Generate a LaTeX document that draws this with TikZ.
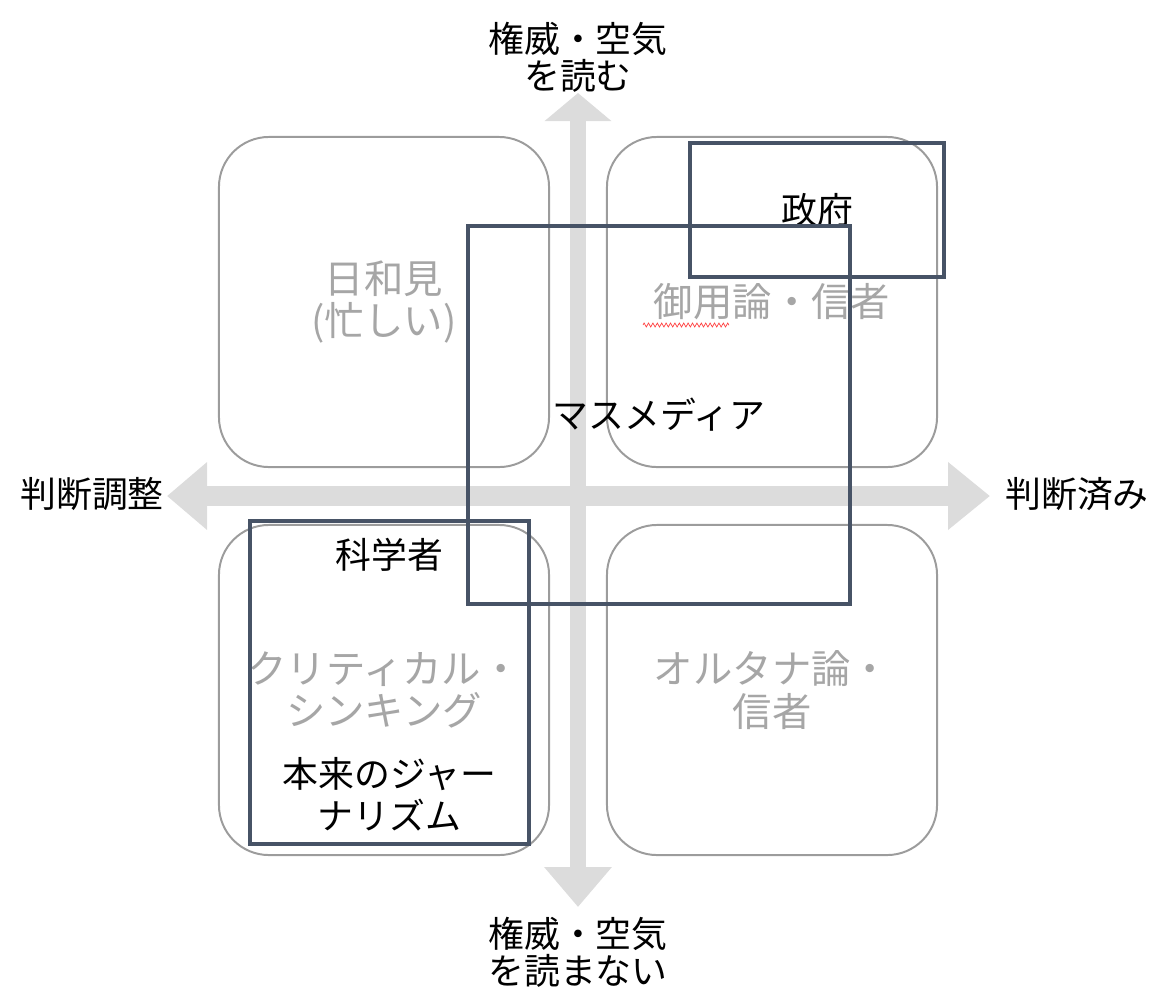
\documentclass[tikz,border=0pt]{standalone}
\usepackage{fontspec}
\setmainfont{Noto Sans CJK JP}
\usepackage{xcolor}
\usetikzlibrary{arrows.meta, positioning, decorations.pathmorphing}
\definecolor{axisgray}{HTML}{DCDCDC}
\definecolor{quadgray}{HTML}{9C9C9C}
\definecolor{txtgray}{HTML}{A6A6A6}
\definecolor{slate}{HTML}{475366}

\begin{document}
\begin{tikzpicture}[x=0.025cm, y=-0.025cm,
    quad/.style={draw=quadgray, fill=white, line width=1.4pt, rounded corners=1.25cm,
        minimum width=8.25cm, minimum height=8.25cm, align=center, text=txtgray,
        font=\fontsize{28}{30.5}\selectfont},
    grp/.style={draw=slate, line width=2.5pt, align=center, inner sep=0pt,
        font=\fontsize{25.5}{30}\selectfont},
    txt/.style={align=center, font=\fontsize{25.5}{30}\selectfont},
    lbl/.style={align=center, font=\fontsize{25.5}{26.5}\selectfont}]
\useasboundingbox (0,0) rectangle (1170,1002);
% Axes
\coordinate (top) at (578,93);
\coordinate (bot) at (578,907);
\coordinate (lft) at (167,496);
\coordinate (rgt) at (990,496);
\draw[axisgray, line width=0.38cm,
    {Triangle[width=1.63cm, length=0.7cm]}-{Triangle[width=1.63cm, length=1.0cm]}] (top) -- (bot);
\draw[axisgray, line width=0.52cm,
    {Triangle[width=1.63cm, length=1.0cm]}-{Triangle[width=1.63cm, length=1.05cm]}] (lft) -- (rgt);
\node[lbl] (up) at (578,57) {権威・空気\\を読む};
\node[lbl] (down) at (578,952) {権威・空気\\を読まない};
\node[lbl] (left) at (92,494) {判断調整};
\node[lbl] (right) at (1077,494) {判断済み};
% Quadrants
\node[quad] (tl) at (384,302) {日和見\\(忙しい)};
\node[quad] (tr) at (772,302) {御用論・信者};
\node[quad] (bl) at (384,690) {クリティカル・\\シンキング};
\node[quad] (br) at (772,690) {オルタナ論・\\信者};
\draw[red!75, line width=0.5pt, decorate,
    decoration={zigzag, amplitude=0.05cm, segment length=0.11cm}] (643,325) -- (729,325);
% Groups
\node[grp, minimum width=6.35cm, minimum height=3.35cm] (gov) at (817,210) {政府};
\node[grp, minimum width=9.55cm, minimum height=9.45cm] (media) at (659,415) {マスメディア};
\node[grp, minimum width=6.975cm, minimum height=8.075cm] (sci) at (389.5,682.5) {};
\node[txt, below=0.35cm of sci.north] (scilbl) {科学者};
\node[txt, above=0.25cm of sci.south] (jour) {本来のジャー\\ナリズム};
\end{tikzpicture}
\end{document}
